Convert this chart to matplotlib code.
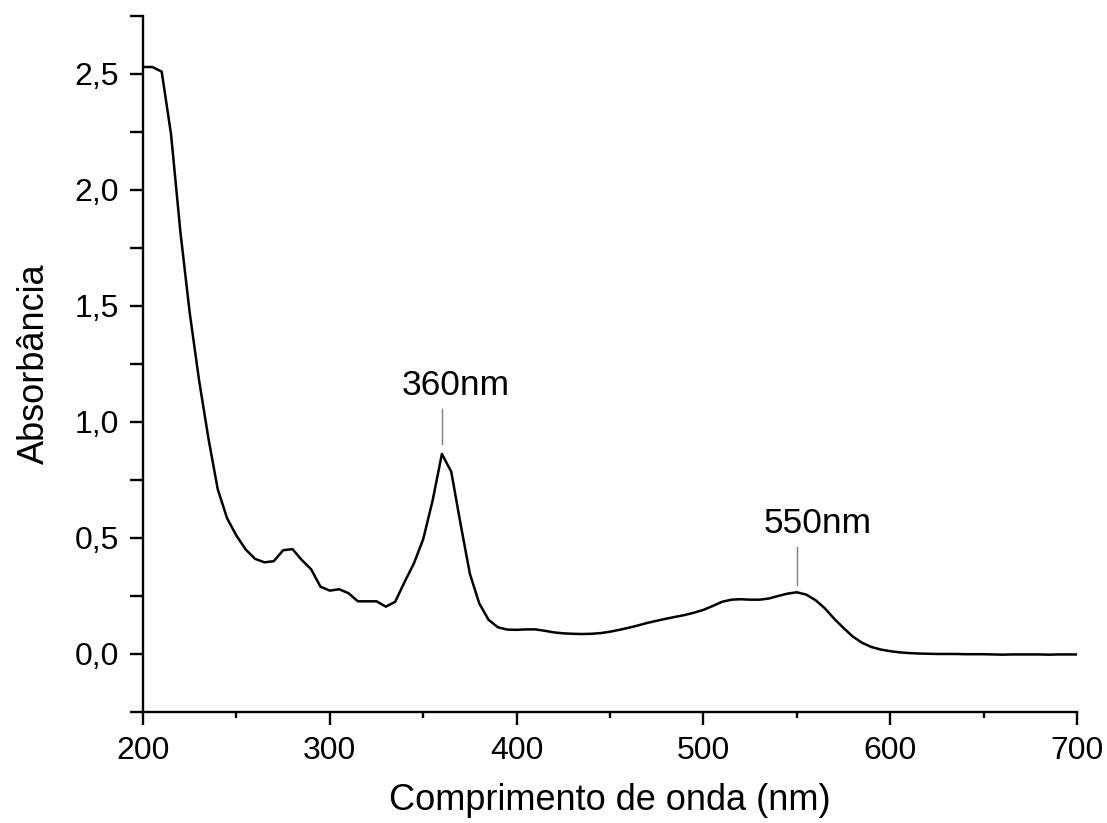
import matplotlib
matplotlib.use("Agg")
import matplotlib.pyplot as plt
from matplotlib.ticker import MultipleLocator, FuncFormatter

plt.rcParams['font.family'] = ['Liberation Sans', 'DejaVu Sans']

wavelength = list(range(200, 701, 5))
absorbance = [
    2.53, 2.53, 2.51, 2.24, 1.82, 1.47, 1.18, 0.93, 0.71, 0.585,   # 200-245
    0.51, 0.45, 0.41, 0.395, 0.40, 0.447, 0.452, 0.405, 0.365, 0.29,  # 250-295
    0.273, 0.279, 0.262, 0.227, 0.227, 0.227, 0.204, 0.225, 0.31, 0.39,  # 300-345
    0.495, 0.66, 0.862, 0.786, 0.56, 0.345, 0.218, 0.147, 0.115, 0.105,  # 350-395
    0.104, 0.106, 0.106, 0.100, 0.093, 0.089, 0.087, 0.086, 0.087, 0.090,  # 400-445
    0.096, 0.104, 0.113, 0.123, 0.134, 0.143, 0.152, 0.160, 0.168, 0.178,  # 450-495
    0.190, 0.207, 0.225, 0.234, 0.236, 0.234, 0.234, 0.239, 0.250, 0.260,  # 500-545
    0.266, 0.256, 0.232, 0.197, 0.152, 0.112, 0.075, 0.048, 0.030, 0.019,  # 550-595
    0.012, 0.007, 0.004, 0.002, 0.001, 0.000, 0.000, 0.000, -0.001, -0.001,  # 600-645
    -0.001, -0.002, -0.003, -0.002, -0.002, -0.002, -0.002, -0.003, -0.002, -0.002,  # 650-695
    -0.002,  # 700
]
peak_labels = ["360nm", "550nm"]
peak_x = [360, 550]
peak_y = [0.862, 0.266]

fig = plt.figure(figsize=(11.07, 8.23), dpi=100)
ax = fig.add_axes([0.1292, 0.1349, 0.8437, 0.8457])
ax.plot(wavelength, absorbance, color='black', lw=1.8)

ax.set_xlim(200, 700)
ax.set_ylim(-0.25, 2.75)
ax.xaxis.set_major_locator(MultipleLocator(100))
ax.xaxis.set_minor_locator(MultipleLocator(50))
ax.yaxis.set_major_locator(MultipleLocator(0.5))
ax.yaxis.set_minor_locator(MultipleLocator(0.25))
ax.yaxis.set_major_formatter(FuncFormatter(lambda v, p: f"{v:.1f}".replace('.', ',')))

for s in ['top', 'right']:
    ax.spines[s].set_visible(False)
for s in ['left', 'bottom']:
    ax.spines[s].set_linewidth(1.7)

ax.tick_params(axis='both', which='major', direction='out', length=9.4, width=1.7,
               labelsize=23, pad=8)
ax.tick_params(axis='x', which='minor', direction='out', length=4.5, width=1.7)
ax.tick_params(axis='y', which='minor', direction='out', length=9.4, width=1.7)

ax.set_xlabel("Comprimento de onda (nm)", fontsize=26, labelpad=12)
ax.set_ylabel("Absorbância", fontsize=26, labelpad=16)

offsets_line = [(0.045, 0.195), (0.033, 0.197)]
for lab, px, py, (g, h) in zip(peak_labels, peak_x, peak_y, offsets_line):
    ax.plot([px, px], [py + g, py + h], color='#808080', lw=1.0)
    ax.text(px + 7.5 if px == 360 else px + 11, py + h + 0.1, lab, fontsize=25.5,
            ha='center', va='center')

fig.savefig("out.png", dpi=100)
